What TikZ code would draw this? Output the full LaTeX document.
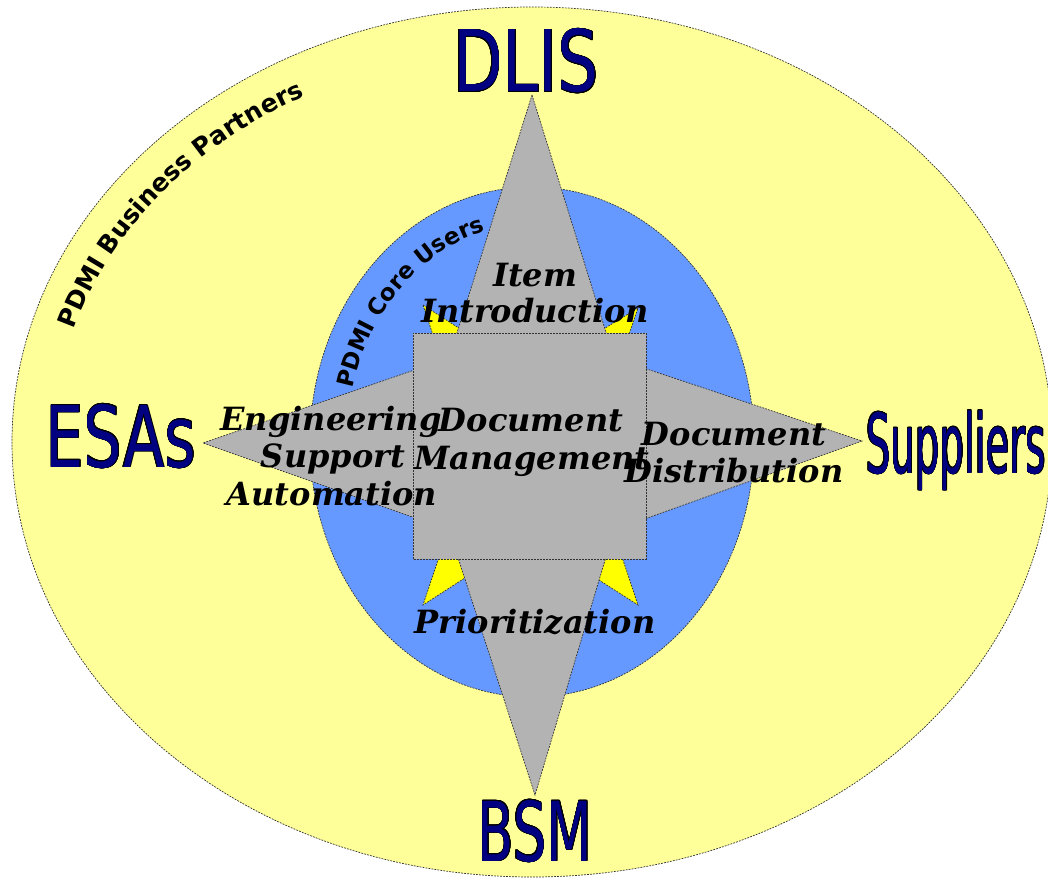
\documentclass[tikz,border=0pt]{standalone}
\usepackage{fontspec}
\usepackage{contour}
\usetikzlibrary{decorations.text}
\newfontfamily\dsans{DejaVu Sans}
\newfontfamily\dserif{DejaVu Serif}
\definecolor{paleyellow}{RGB}{255,255,153}
\definecolor{coreblue}{RGB}{102,153,255}
\definecolor{pointyellow}{RGB}{255,255,0}
\definecolor{stargrey}{RGB}{179,179,179}
\definecolor{navy}{RGB}{0,0,128}
\contourlength{0.9pt}
\begin{document}
\begin{tikzpicture}[x=1pt,y=1pt,
  outline/.style={draw=black!80, line width=0.7pt, dash pattern=on 1.8pt off 1.2pt},
  role/.style={font=\dserif\bfseries\itshape\fontsize{32}{37}\selectfont, inner sep=0pt, anchor=base},
  party/.style={font=\dsans\fontsize{85}{85}\selectfont, text=navy, inner sep=0pt, anchor=base}]
\clip (0,0) rectangle (1048,879);
\fill[white] (0,0) rectangle (1048,879);
\draw[outline, fill=paleyellow] (532,437) ellipse [x radius=520, y radius=435];
\draw[outline, fill=coreblue] (532,437) ellipse [x radius=222, y radius=255];
\path[decorate, decoration={text along path, text align=center,
  text={|\dsans\bfseries\fontsize{25}{25}\selectfont|PDMI Business Partners}}]
  (532,437) ++(178:478 and 393) arc[start angle=178, end angle=106, x radius=478, y radius=393];
\path[decorate, decoration={text along path, text align=center,
  text={|\dsans\bfseries\fontsize{23}{23}\selectfont|PDMI Core Users}}]
  (532,437) ++(168:185 and 218) arc[start angle=168, end angle=102, x radius=185, y radius=218];
\draw[outline, fill=pointyellow] (423,574) -- (530,505) -- (638,571) -- (588,424) -- (638,274) -- (530,343) -- (423,274) -- (473,424) -- cycle;
\draw[outline, fill=stargrey] (532,784) -- (614,521) -- (862,438) -- (614,349) -- (535,84) -- (449,349) -- (203,436) -- (449,521) -- cycle;
\draw[outline, fill=stargrey] (413,320) rectangle (646,546);
\node[role] (item) at (535,592) {Item};
\node[role] (intro) at (535,556) {Introduction};
\node[role] (eng1) at (331,449) {Engineering};
\node[role] (eng2) at (333,412) {Support};
\node[role] (eng3) at (332,374) {Automation};
\node[role] (dm1) at (531,447) {Document};
\node[role] (dm2) at (532,410) {Management};
\node[role] (dd1) at (734,434) {Document};
\node[role] (dd2) at (734,397) {Distribution};
\node[role] (prio) at (535,246) {Prioritization};
\node[party] (dlis) at (526,787) {\scalebox{0.76}[1]{\contour{black}{DLIS}}};
\node[party] (esas) at (121,412) {\scalebox{0.71}[1]{\contour{black}{ESAs}}};
\node[party] (suppliers) at (956,406) {\scalebox{0.455}[0.97]{\contour{black}{Suppliers}}};
\node[party] (bsm) at (535,18) {\scalebox{0.62}[0.97]{\contour{black}{BSM}}};
\end{tikzpicture}
\end{document}
